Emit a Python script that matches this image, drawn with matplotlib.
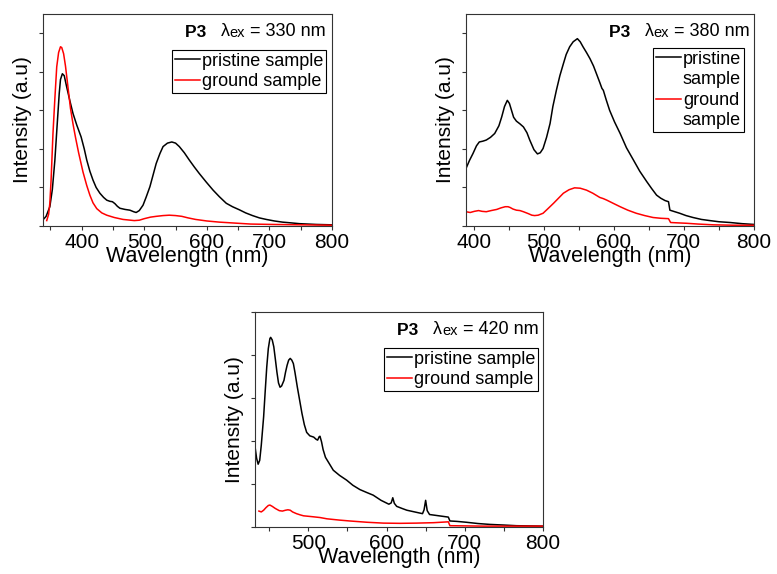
import matplotlib
matplotlib.use('Agg')
import matplotlib.pyplot as plt
from matplotlib.lines import Line2D
from matplotlib.ticker import MultipleLocator, NullFormatter

plt.rcParams['font.family'] = ['Liberation Sans', 'DejaVu Sans']

# --- panel 1: excitation 330 nm ---
wl1_pristine = [338, 343, 349, 353, 357, 361, 364, 366, 369, 372, 376, 381, 386, 392, 399, 404,
                408, 413, 418, 423, 429, 435, 440, 445, 449, 453, 457, 461, 469, 477, 483, 487,
                492, 498, 503, 509, 514, 519, 525, 530, 537, 544, 550, 556, 564, 572, 580, 588,
                599, 610, 620, 631, 641, 652, 662, 673, 684, 695, 708, 721, 735, 748, 775, 800]
int1_pristine = [0.16, 0.25, 0.5, 0.95, 1.7, 2.7, 3.44, 3.8, 3.95, 3.9, 3.6, 3.25, 2.92, 2.62,
                 2.31, 2.0, 1.71, 1.42, 1.19, 1.0, 0.85, 0.74, 0.67, 0.64, 0.63, 0.58, 0.51,
                 0.46, 0.43, 0.41, 0.37, 0.35, 0.4, 0.54, 0.75, 1.02, 1.32, 1.62, 1.88, 2.06,
                 2.15, 2.18, 2.15, 2.06, 1.9, 1.71, 1.53, 1.36, 1.14, 0.93, 0.76, 0.59, 0.5,
                 0.42, 0.34, 0.27, 0.21, 0.17, 0.13, 0.1, 0.08, 0.06, 0.04, 0.03]
wl1_ground = [344, 347, 349, 351, 354, 357, 360, 363, 366, 368, 371, 374, 378, 382, 386, 390,
              395, 402, 408, 413, 418, 424, 432, 440, 452, 466, 484, 492, 500, 510, 519, 530,
              540, 550, 560, 570, 582, 600, 620, 640, 670, 704, 750, 800]
int1_ground = [0.14, 0.3, 0.59, 1.2, 2.4, 3.3, 4.13, 4.5, 4.65, 4.63, 4.47, 4.15, 3.6, 3.05,
               2.65, 2.3, 1.9, 1.4, 1.05, 0.8, 0.6, 0.45, 0.34, 0.28, 0.22, 0.17, 0.14, 0.15,
               0.19, 0.23, 0.25, 0.27, 0.28, 0.27, 0.25, 0.21, 0.17, 0.13, 0.1, 0.08, 0.05,
               0.04, 0.03, 0.02]

# --- panel 2: excitation 380 nm ---
wl2_pristine = [389, 394, 399, 404, 408, 413, 418, 424, 430, 436, 440, 444, 448, 451, 454, 457,
                461, 466, 471, 476, 480, 486, 491, 495, 499, 504, 509, 513, 518, 523, 528, 532,
                537, 542, 548, 552, 556, 561, 566, 571, 575, 580, 583, 585, 589, 594, 601, 609,
                618, 628, 637, 647, 654, 661, 667, 673, 678, 680, 687, 694, 703, 713, 725, 737,
                750, 766, 783, 800]
int2_pristine = [1.49, 1.7, 1.88, 2.08, 2.18, 2.2, 2.23, 2.3, 2.4, 2.6, 2.83, 3.1, 3.26, 3.18,
                 3.0, 2.82, 2.72, 2.65, 2.57, 2.42, 2.23, 1.98, 1.87, 1.9, 2.01, 2.3, 2.66, 3.1,
                 3.52, 3.9, 4.21, 4.45, 4.65, 4.78, 4.86, 4.78, 4.65, 4.5, 4.34, 4.15, 3.96,
                 3.72, 3.57, 3.52, 3.28, 3.0, 2.7, 2.4, 2.03, 1.71, 1.42, 1.15, 0.97, 0.8, 0.72,
                 0.66, 0.63, 0.41, 0.37, 0.33, 0.27, 0.22, 0.17, 0.14, 0.11, 0.09, 0.06, 0.04]
wl2_ground = [389, 395, 401, 407, 412, 418, 425, 433, 439, 445, 449, 452, 456, 461, 466, 471,
              478, 483, 487, 492, 499, 506, 514, 521, 528, 536, 544, 552, 561, 570, 580, 585,
              590, 600, 609, 620, 632, 644, 656, 667, 678, 681, 692, 704, 720, 742, 770, 800]
int2_ground = [0.37, 0.35, 0.38, 0.4, 0.38, 0.37, 0.4, 0.43, 0.47, 0.5, 0.5, 0.48, 0.44, 0.41,
               0.4, 0.37, 0.32, 0.28, 0.27, 0.28, 0.33, 0.45, 0.59, 0.72, 0.85, 0.94, 0.99,
               0.98, 0.93, 0.85, 0.74, 0.71, 0.67, 0.58, 0.5, 0.41, 0.33, 0.27, 0.22, 0.2,
               0.19, 0.09, 0.08, 0.07, 0.05, 0.03, 0.02, 0.02]

# --- panel 3: excitation 420 nm ---
wl3_pristine = [432, 434, 436, 438, 440, 443, 445, 447, 449, 451, 452, 454, 456, 458, 460, 462,
                464, 466, 469, 471, 473, 475, 477, 479, 481, 483, 486, 489, 492, 495, 498, 502,
                507, 510, 512, 514, 515, 517, 519, 522, 526, 532, 540, 549, 557, 566, 575, 583,
                593, 603, 606, 608, 610, 613, 620, 626, 636, 646, 648, 650, 652, 655, 667, 679,
                681, 690, 702, 717, 732, 750, 766, 783, 800]
int3_pristine = [1.87, 1.6, 1.46, 1.55, 1.9, 2.56, 3.15, 3.72, 4.15, 4.38, 4.41, 4.35, 4.19, 3.9,
                 3.6, 3.35, 3.25, 3.28, 3.41, 3.6, 3.76, 3.88, 3.92, 3.88, 3.8, 3.6, 3.26, 2.95,
                 2.64, 2.38, 2.2, 2.12, 2.09, 2.04, 2.02, 2.1, 2.11, 1.98, 1.8, 1.62, 1.5, 1.32,
                 1.2, 1.09, 0.97, 0.87, 0.8, 0.74, 0.62, 0.53, 0.56, 0.68, 0.55, 0.48, 0.43,
                 0.39, 0.35, 0.31, 0.4, 0.62, 0.38, 0.29, 0.26, 0.23, 0.14, 0.13, 0.11, 0.08,
                 0.06, 0.045, 0.03, 0.025, 0.02]
wl3_ground = [437, 440, 443, 446, 449, 451, 454, 458, 463, 467, 471, 474, 477, 480, 485, 490,
              494, 505, 515, 524, 540, 553, 575, 596, 617, 638, 660, 679, 681, 724, 800]
int3_ground = [0.37, 0.35, 0.39, 0.45, 0.5, 0.51, 0.48, 0.43, 0.38, 0.37, 0.39, 0.4, 0.39, 0.35,
               0.31, 0.28, 0.26, 0.24, 0.22, 0.19, 0.16, 0.14, 0.11, 0.09, 0.085, 0.09, 0.1,
               0.12, 0.03, 0.02, 0.02]

panels = [
    dict(rect=[0.0553, 0.6063, 0.3719, 0.3693], xlim=(338, 800), ylim=(0, 5.5), ex='330',
         data=(wl1_pristine, int1_pristine, wl1_ground, int1_ground), split=False,
         leg=(0.979, 0.83), title=(0.979, 0.877)),
    dict(rect=[0.5997, 0.6063, 0.3707, 0.3693], xlim=(389, 800), ylim=(0, 5.5), ex='380',
         data=(wl2_pristine, int2_pristine, wl2_ground, int2_ground), split=True,
         leg=(0.965, 0.84), title=(0.986, 0.877)),
    dict(rect=[0.3282, 0.0819, 0.3707, 0.3746], xlim=(432, 800), ylim=(0, 5.0), ex='420',
         data=(wl3_pristine, int3_pristine, wl3_ground, int3_ground), split=False,
         leg=(0.983, 0.833), title=(0.983, 0.879)),
]

fig = plt.figure(figsize=(7.77, 5.74), dpi=100)

for p in panels:
    ax = fig.add_axes(p['rect'])
    wp, ip, wg, ig = p['data']
    l1, = ax.plot(wp, ip, color='black', lw=1.1)
    l2, = ax.plot(wg, ig, color='red', lw=1.1)
    ax.set_xlim(*p['xlim'])
    ax.set_ylim(*p['ylim'])
    ax.xaxis.set_major_locator(MultipleLocator(100))
    ax.xaxis.set_minor_locator(MultipleLocator(50))
    ax.yaxis.set_major_locator(MultipleLocator(1))
    ax.yaxis.set_major_formatter(NullFormatter())
    ax.tick_params(which='both', direction='out', length=3, width=0.8, color='#333333',
                   labelsize=15, pad=2)
    for s in ax.spines.values():
        s.set_linewidth(0.8)
        s.set_color('#333333')
    ax.set_xlabel('Wavelength (nm)', fontsize=15.5, labelpad=-4)
    ax.set_ylabel('Intensity (a.u)', fontsize=15, labelpad=3)

    if p['split']:
        blank = Line2D([], [], color='none')
        handles = [l1, blank, l2, blank]
        labels = ['pristine', 'sample', 'ground', 'sample']
    else:
        handles = [l1, l2]
        labels = ['pristine sample', 'ground sample']
    leg = ax.legend(handles, labels, loc='upper right', bbox_to_anchor=p['leg'],
                    borderaxespad=0, fontsize=13, handlelength=1.4, handletextpad=0.1,
                    labelspacing=0.2, borderpad=0.15, fancybox=False, framealpha=1,
                    edgecolor='black')
    leg.get_frame().set_linewidth(0.8)

    # title built right to left: "P3   λex = 330 nm"
    t = ax.text(p['title'][0], p['title'][1], ' = %s nm' % p['ex'], transform=ax.transAxes,
                ha='right', va='bottom', fontsize=13)
    t = ax.annotate('ex', xy=(0, 0), xycoords=t, ha='right', va='bottom', fontsize=10.5)
    t = ax.annotate('λ', xy=(0, 0), xycoords=t, ha='right', va='bottom', fontsize=13)
    ax.annotate('P3   ', xy=(0, 0), xycoords=t, ha='right', va='bottom', fontsize=12.5,
                fontweight='bold')

fig.savefig('out.png', dpi=100)
